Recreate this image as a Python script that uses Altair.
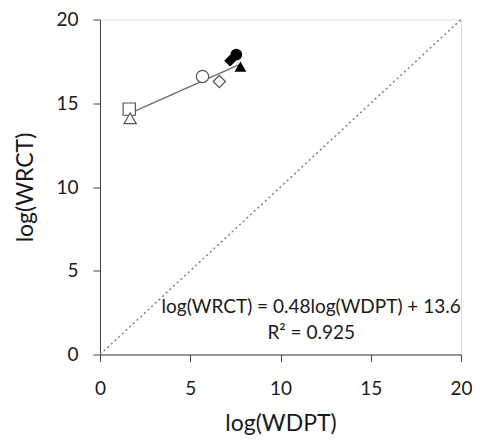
import altair as alt
import pandas as pd

# data
x_vals = [1.62, 1.67, 5.68, 6.61, 7.55, 7.21, 7.78]
y_vals = [14.65, 14.1, 16.6, 16.3, 17.9, 17.54, 17.18]
shapes = ["square", "triangle-up", "circle", "diamond", "circle", "diamond", "triangle-up"]
filled = ["open", "open", "open", "open", "filled", "filled", "filled"]
labels = ["A", "B", "C", "D", "E", "F", "G"]

slope = 0.48
intercept = 13.6
eq_lines = ["log(WRCT) = 0.48log(WDPT) + 13.6", "R\u00b2 = 0.925"]
eq_x = [11.7, 11.7]
eq_y = [2.49, 0.95]

ticks = [0, 5, 10, 15, 20]

df = pd.DataFrame({"x": x_vals, "y": y_vals, "shape": shapes, "fill": filled, "id": labels})
xmin, xmax = min(x_vals), max(x_vals)
fit = pd.DataFrame({"x": [xmin, xmax], "y": [slope * xmin + intercept, slope * xmax + intercept]})
diag = pd.DataFrame({"x": [0, 20], "y": [0, 20]})
eq = pd.DataFrame({"t": eq_lines, "x": eq_x, "y": eq_y})

FONT = "Lato"
TXT = "#1a1a1a"
AX = "#404040"

xs = alt.Scale(domain=[0, 20], nice=False)
ys = alt.Scale(domain=[0, 20], nice=False)

xax = alt.Axis(values=ticks, title="log(WDPT)", grid=False, tickSize=7, labelPadding=18,
               labelFontSize=19, titleFontSize=23, labelFont=FONT, titleFont=FONT,
               labelColor=TXT, titleColor=TXT, titleFontWeight="normal",
               domainColor=AX, tickColor=AX, titleBaseline="alphabetic", titleY=75.5,
               labelFlush=False)
yax = alt.Axis(values=ticks, title="log(WRCT)", grid=False, tickSize=7, labelPadding=15,
               labelFontSize=19, titleFontSize=23, labelFont=FONT, titleFont=FONT,
               labelColor=TXT, titleColor=TXT, titleFontWeight="normal",
               domainColor=AX, tickColor=AX, titleBaseline="alphabetic", titleX=-68,
               labelFlush=False)

diag_layer = alt.Chart(diag).mark_line(color="#808080", strokeDash=[2, 3], strokeWidth=1.5).encode(
    x=alt.X("x:Q", scale=xs, axis=xax), y=alt.Y("y:Q", scale=ys, axis=yax))

fit_layer = alt.Chart(fit).mark_line(color="#707070", strokeWidth=1.5).encode(
    x=alt.X("x:Q", scale=xs), y=alt.Y("y:Q", scale=ys))

open_pts = alt.Chart(df).transform_filter(alt.datum.fill == "open").mark_point(
    filled=False, fill="white", fillOpacity=1, stroke="#555555", strokeWidth=1.2, size=150, opacity=1
).encode(
    x=alt.X("x:Q", scale=xs), y=alt.Y("y:Q", scale=ys),
    shape=alt.Shape("shape:N", scale=None, legend=None))

filled_pts = alt.Chart(df).transform_filter(alt.datum.fill == "filled").mark_point(
    filled=True, color="black", size=140, opacity=1
).encode(
    x=alt.X("x:Q", scale=xs), y=alt.Y("y:Q", scale=ys),
    shape=alt.Shape("shape:N", scale=None, legend=None))

eq_layer = alt.Chart(eq).mark_text(font=FONT, fontSize=19, color=TXT, baseline="alphabetic", align="center").encode(
    x=alt.X("x:Q", scale=xs), y=alt.Y("y:Q", scale=ys), text="t:N")

chart = alt.layer(diag_layer, fit_layer, open_pts, filled_pts, eq_layer).properties(
    width=361, height=335,
    autosize=alt.AutoSizeParams(type="none"),
    padding={"left": 92, "top": 11.5, "right": 11, "bottom": 80.5},
).configure_view(stroke=AX, strokeWidth=1).configure(background="white")

chart.save("out.html", embed_options={"renderer": "svg", "actions": False})
